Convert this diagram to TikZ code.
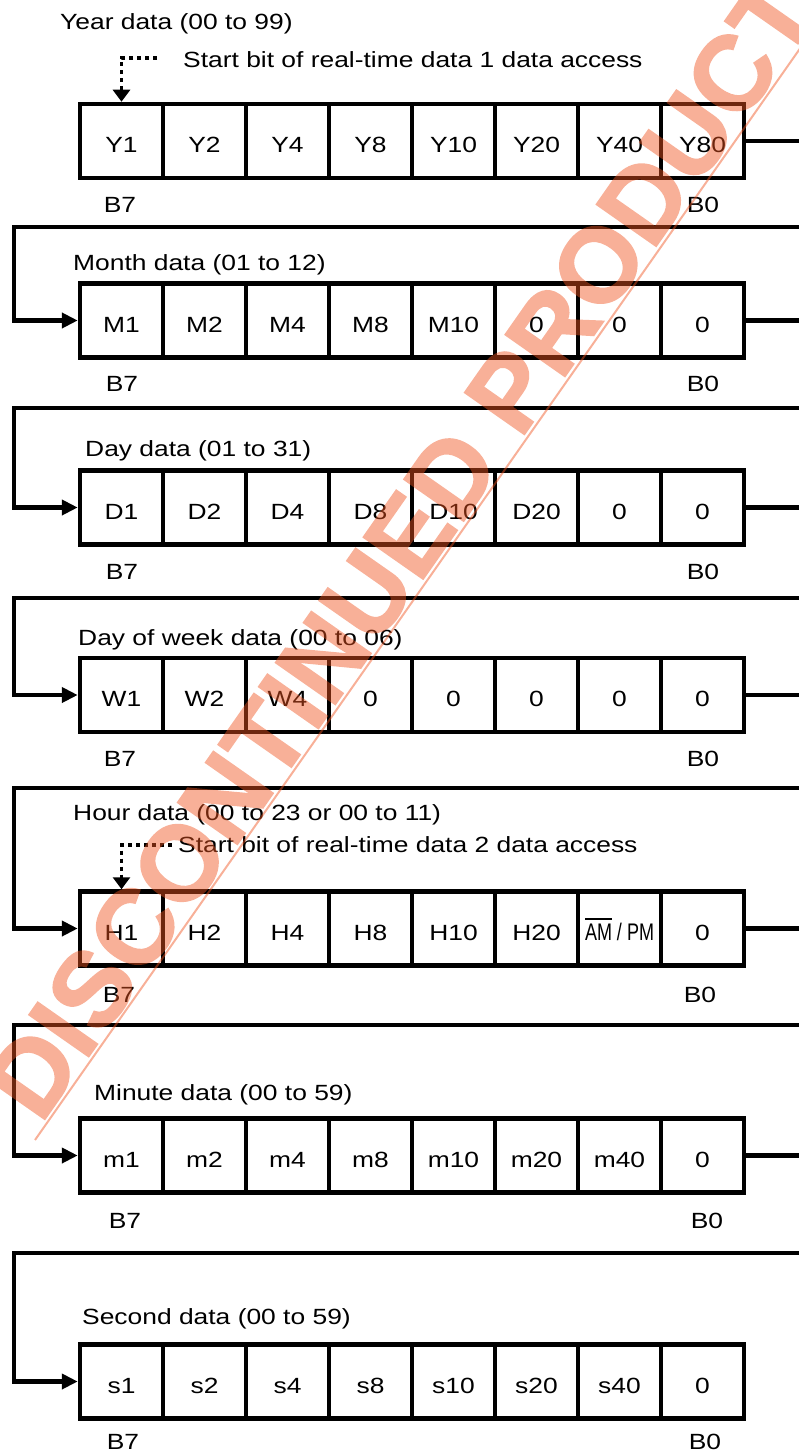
\documentclass[tikz,border=0pt]{standalone}
\usepackage{fontspec}
\setmainfont{Liberation Sans}[FakeStretch=1.2]
\newfontfamily\narrowfont{Liberation Sans}[FakeStretch=0.75]
\newfontfamily\wmfont{Liberation Sans}[BoldFeatures={FakeBold=1.5}]
\usetikzlibrary{arrows.meta}
\newcommand\ovl[1]{\vbox{\hrule height 2pt\kern 4pt\hbox{#1}}}
\newcommand\ampm{{\narrowfont\fontsize{24pt}{28pt}\selectfont\ovl{AM} / PM}}
\definecolor{wmred}{RGB}{239,83,31}
\begin{document}
\begin{tikzpicture}[x=1pt,y=-1pt,
  font=\fontsize{22pt}{26pt}\selectfont,
  cell/.style={draw, line width=4.5pt, minimum width=83pt, minimum height=74pt,
    inner sep=0pt, text height=23.5pt, text depth=0pt},
  lbl/.style={inner sep=0pt, text height=15.8pt, text depth=0pt, anchor=west},
  bitlbl/.style={inner sep=0pt, text height=15.8pt, text depth=0pt},
  conn/.style={line width=4.5pt, line join=miter, -{Triangle[length=16pt,width=15pt]}},
  dotarrow/.style={line width=3.5pt, dash pattern=on 4pt off 4pt,
    -{Triangle[length=12pt,width=17pt]}},
  wmtext/.style={text=wmred, inner sep=0pt,
    font=\wmfont\bfseries\fontsize{106pt}{106pt}\selectfont},
  wmline/.style={draw=wmred, draw opacity=0.46, line width=2pt}
]
\useasboundingbox (0,0) rectangle (799,1453);

% rows of bit cells
\foreach \t [count=\i] in {Y1,Y2,Y4,Y8,Y10,Y20,Y40,Y80}
  \node[cell] (r1c\i) at ({80+(\i-0.5)*83},141) {\t};
\foreach \t [count=\i] in {M1,M2,M4,M8,M10,0,0,0}
  \node[cell] (r2c\i) at ({80+(\i-0.5)*83},320.5) {\t};
\foreach \t [count=\i] in {D1,D2,D4,D8,D10,D20,0,0}
  \node[cell] (r3c\i) at ({80+(\i-0.5)*83},507.5) {\t};
\foreach \t [count=\i] in {W1,W2,W4,0,0,0,0,0}
  \node[cell] (r4c\i) at ({80+(\i-0.5)*83},695) {\t};
\foreach \t [count=\i] in {H1,H2,H4,H8,H10,H20,{\ampm},0}
  \node[cell] (r5c\i) at ({80+(\i-0.5)*83},928.5) {\t};
\foreach \t [count=\i] in {m1,m2,m4,m8,m10,m20,m40,0}
  \node[cell] (r6c\i) at ({80+(\i-0.5)*83},1155.5) {\t};
\foreach \t [count=\i] in {s1,s2,s4,s8,s10,s20,s40,0}
  \node[cell] (r7c\i) at ({80+(\i-0.5)*83},1381.5) {\t};

% titles
\node[lbl] (t1) at (60,22) {Year data (00 to 99)};
\node[lbl] (st1) at (183,60) {Start bit of real-time data 1 data access};
\node[lbl] (t2) at (73,263) {Month data (01 to 12)};
\node[lbl] (t3) at (85,449) {Day data (01 to 31)};
\node[lbl] (t4) at (78,638) {Day of week data (00 to 06)};
\node[lbl] (t5) at (73,813) {Hour data (00 to 23 or 00 to 11)};
\node[lbl] (st2) at (178,845) {Start bit of real-time data 2 data access};
\node[lbl] (t6) at (94,1093) {Minute data (00 to 59)};
\node[lbl] (t7) at (82,1317) {Second data (00 to 59)};

% B7 / B0
\node[bitlbl] (b7r1) at (120,205) {B7};  \node[bitlbl] (b0r1) at (703,205) {B0};
\node[bitlbl] (b7r2) at (122,384) {B7};  \node[bitlbl] (b0r2) at (703,384) {B0};
\node[bitlbl] (b7r3) at (122,572) {B7};  \node[bitlbl] (b0r3) at (703,572) {B0};
\node[bitlbl] (b7r4) at (120,759) {B7};  \node[bitlbl] (b0r4) at (703,759) {B0};
\node[bitlbl] (b7r5) at (119,995) {B7};  \node[bitlbl] (b0r5) at (700,995) {B0};
\node[bitlbl] (b7r6) at (125,1221) {B7}; \node[bitlbl] (b0r6) at (707,1221) {B0};
\node[bitlbl] (b7r7) at (123,1442) {B7}; \node[bitlbl] (b0r7) at (705,1442) {B0};

% start-bit markers
\coordinate (d1) at (157,58);
\coordinate (d2) at (172,845);
\draw[dotarrow] (d1) -| (r1c1.north);
\draw[dotarrow] (d2) -| (r5c1.north);

% row-to-row connectors
\draw[conn] (r1c8.east) -- (830,141) |- (14,227) |- (r2c1.west);
\draw[conn] (r2c8.east) -- (830,320.5) |- (14,408) |- (r3c1.west);
\draw[conn] (r3c8.east) -- (830,507.5) |- (14,598) |- (r4c1.west);
\draw[conn] (r4c8.east) -- (830,695) |- (14,788) |- (r5c1.west);
\draw[conn] (r5c8.east) -- (830,928.5) |- (14,1025) |- (r6c1.west);
\draw[conn] (r6c8.east) -- (830,1155.5) |- (14,1253) |- (r7c1.west);

% watermark
\begin{scope}[transparency group, opacity=0.46]
\node[wmtext, rotate=55] (wm) at (401,547) {DISCONTINUED PRODUCT};
\end{scope}
\path[wmline] (35,1140) -- (834,0);
\end{tikzpicture}
\end{document}
